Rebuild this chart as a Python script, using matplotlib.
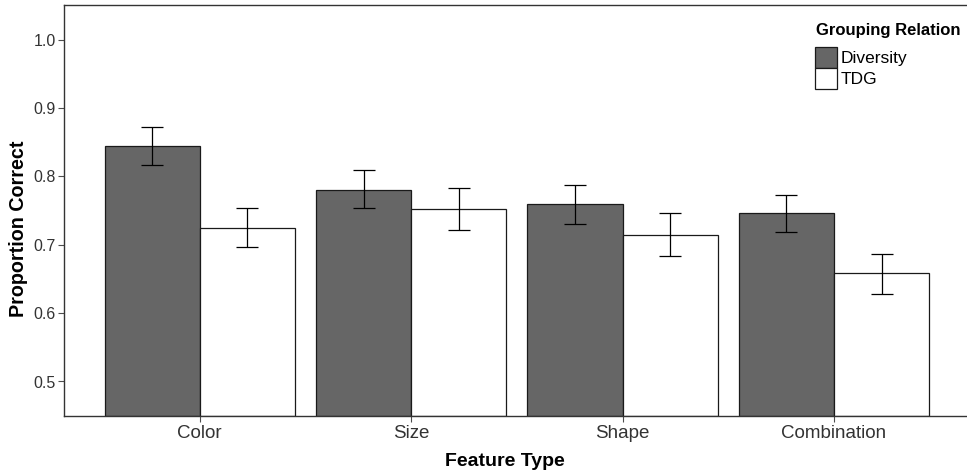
import numpy as np
import matplotlib
matplotlib.use("Agg")
import matplotlib.pyplot as plt

plt.rcParams['font.family'] = ['Liberation Sans', 'DejaVu Sans']

# data
features = ["Color", "Size", "Shape", "Combination"]
groups = ["Diversity", "TDG"]
diversity_mean = [0.845, 0.780, 0.759, 0.746]
diversity_lo = [0.817, 0.753, 0.730, 0.718]
diversity_hi = [0.872, 0.809, 0.787, 0.772]
tdg_mean = [0.725, 0.752, 0.714, 0.658]
tdg_lo = [0.696, 0.721, 0.683, 0.628]
tdg_hi = [0.753, 0.783, 0.746, 0.687]

W, H = 967, 474
fig = plt.figure(figsize=(W / 100, H / 100), dpi=100)
# panel spans past the right edge (reference is cropped there)
left, right, top, bottom = 64, 969.7, 5.3, 415.7
ax = fig.add_axes([left / W, 1 - bottom / H, (right - left) / W, (bottom - top) / H])

x = np.arange(len(features))
bw = 0.45
fills = ["#666666", "white"]
means = [diversity_mean, tdg_mean]
los = [diversity_lo, tdg_lo]
his = [diversity_hi, tdg_hi]
for i, g in enumerate(groups):
    pos = x + (i - 0.5) * bw
    m = np.array(means[i])
    err = [m - np.array(los[i]), np.array(his[i]) - m]
    ax.bar(pos, m - 0.45, bottom=0.45, width=bw, color=fills[i], edgecolor="#1a1a1a",
           linewidth=0.9, label=g, zorder=2)
    ax.errorbar(pos, m, yerr=err, fmt="none", ecolor="black", elinewidth=0.9,
                capsize=7.7, capthick=0.9, zorder=3)

ax.set_xlim(-0.642, 3.642)
ax.set_ylim(0.45, 1.05)
ax.set_yticks([0.5, 0.6, 0.7, 0.8, 0.9, 1.0])
ax.set_yticklabels(["0.5", "0.6", "0.7", "0.8", "0.9", "1.0"])
ax.set_xticks(x)
ax.set_xticklabels(features)
ax.tick_params(axis="y", labelsize=11.5, colors="#4d4d4d", length=4, width=0.8, pad=2)
ax.tick_params(axis="x", labelsize=13.5, colors="#4d4d4d", length=4, width=0.8, pad=3)
for lab in ax.get_xticklabels() + ax.get_yticklabels():
    lab.set_color("#333333")
for s in ax.spines.values():
    s.set_color("#333333")
    s.set_linewidth(1.0)

fig.text(505 / W, 1 - 462 / H, "Feature Type", ha="center", va="center",
         fontsize=14, fontweight="bold")
fig.text(19 / W, 1 - 229 / H, "Proportion Correct", ha="center", va="center",
         rotation=90, fontsize=14.2, fontweight="bold")

# legend title placed on its own, entries below it
fig.text(816 / W, 1 - 31 / H, "Grouping Relation", ha="left", va="center",
         fontsize=12, fontweight="bold")
leg = ax.legend(loc="upper left", bbox_to_anchor=(815 / W, 1 - 47 / H),
                bbox_transform=fig.transFigure, frameon=False, fontsize=12.5,
                handlelength=1.26, handleheight=1.5, labelspacing=0.0,
                handletextpad=0.2, borderpad=0, borderaxespad=0)

fig.savefig("out.png", dpi=100)
